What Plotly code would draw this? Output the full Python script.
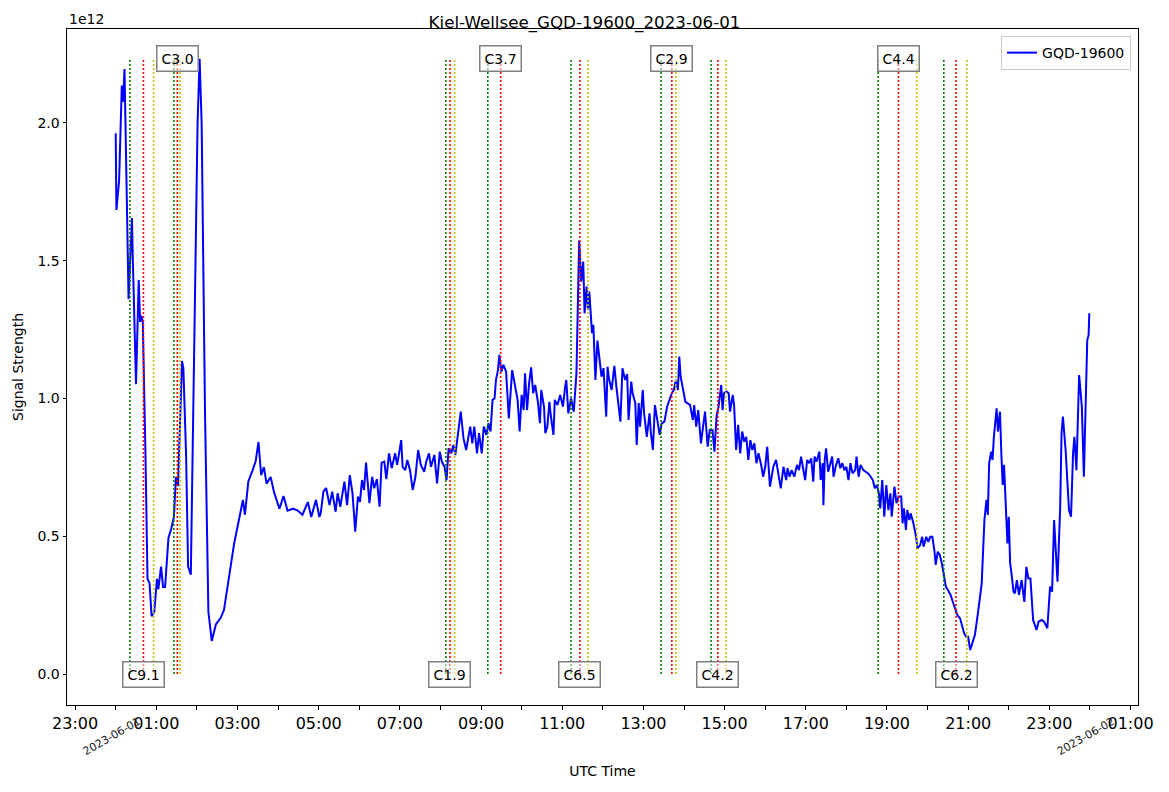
import pandas as pd
import plotly.graph_objects as go

# station / receiver
station = 'Kiel-Wellsee'
transmitter = 'GQD-19600'
day = '2023-06-01'

# minutes after 00:00 UTC and signal strength (in units of 1e12)
minutes = [
    0, 1, 5, 9, 11, 13, 19, 24, 25, 30, 34, 36, 38, 40, 44, 47, 50, 53, 57, 61,
    63, 67, 70, 73, 78, 82, 86, 89, 92, 98, 100, 104, 107, 111, 121, 124, 127, 132, 137, 142,
    148, 155, 160, 168, 175, 183, 188, 191, 196, 202, 207, 211, 215, 219, 223, 229, 234, 242, 248, 254,
    262, 269, 276, 284, 289, 296, 301, 303, 307, 311, 316, 320, 325, 328, 332, 338, 342, 346, 350, 354,
    358, 361, 364, 367, 370, 375, 379, 382, 386, 390, 393, 397, 400, 404, 408, 413, 416, 422, 424, 428,
    431, 435, 439, 443, 447, 451, 456, 459, 463, 466, 471, 475, 479, 482, 486, 489, 492, 496, 499, 502,
    506, 510, 514, 518, 521, 524, 527, 530, 534, 537, 541, 544, 548, 551, 554, 557, 560, 562, 565, 567,
    570, 573, 577, 581, 586, 591, 594, 597, 600, 603, 605, 608, 611, 614, 617, 620, 624, 627, 629, 633,
    635, 638, 641, 643, 647, 649, 653, 657, 661, 664, 666, 669, 673, 677, 681, 685, 688, 691, 693, 696,
    698, 700, 704, 706, 709, 712, 716, 718, 721, 725, 727, 729, 733, 737, 740, 743, 746, 749, 753, 756,
    758, 762, 764, 768, 770, 773, 775, 779, 781, 785, 789, 791, 794, 797, 801, 804, 807, 811, 815, 818,
    822, 825, 828, 831, 833, 835, 839, 842, 845, 849, 853, 855, 858, 861, 865, 868, 871, 875, 878, 882,
    885, 888, 891, 895, 897, 899, 903, 906, 908, 912, 914, 917, 920, 923, 926, 929, 932, 935, 938, 941,
    944, 947, 950, 954, 957, 960, 963, 967, 972, 976, 979, 983, 987, 991, 993, 996, 999, 1003, 1007, 1010,
    1013, 1016, 1019, 1022, 1025, 1028, 1031, 1033, 1036, 1040, 1042, 1045, 1046, 1048, 1050, 1053, 1056, 1059, 1061, 1064,
    1068, 1071, 1074, 1077, 1080, 1083, 1086, 1089, 1093, 1095, 1098, 1101, 1105, 1109, 1112, 1116, 1119, 1122, 1125, 1128,
    1130, 1133, 1136, 1139, 1142, 1145, 1147, 1151, 1154, 1157, 1161, 1163, 1165, 1168, 1170, 1173, 1175, 1179, 1183, 1185,
    1189, 1192, 1194, 1198, 1201, 1204, 1207, 1210, 1212, 1215, 1218, 1221, 1224, 1227, 1230, 1234, 1238, 1241, 1244, 1248,
    1251, 1254, 1257, 1260, 1263, 1267, 1270, 1275, 1280, 1284, 1287, 1289, 1291, 1294, 1296, 1298, 1302, 1304, 1307, 1309,
    1311, 1313, 1317, 1318, 1320, 1322, 1324, 1327, 1329, 1332, 1335, 1339, 1343, 1346, 1349, 1352, 1356, 1361, 1364, 1369,
    1372, 1377, 1381, 1384, 1387, 1392, 1396, 1398, 1400, 1404, 1409, 1412, 1415, 1417, 1420, 1424, 1428, 1431, 1436, 1438,
    1439,
]
signal_e12 = [
    1.963, 1.684, 1.79, 2.136, 2.076, 2.196, 1.361, 1.655, 1.535, 1.052, 1.43, 1.278, 1.30, 1.278, 0.796, 0.345, 0.33, 0.21, 0.225, 0.345,
    0.308, 0.39, 0.316, 0.316, 0.495, 0.526, 0.57, 0.715, 0.682, 1.136, 1.11, 0.796, 0.39, 0.36, 2.0, 2.233, 2.0, 0.947, 0.225, 0.12,
    0.18, 0.203, 0.232, 0.36, 0.473, 0.57, 0.632, 0.578, 0.699, 0.737, 0.774, 0.842, 0.722, 0.751, 0.691, 0.715, 0.66, 0.60, 0.646, 0.593,
    0.60, 0.593, 0.578, 0.624, 0.57, 0.632, 0.57, 0.583, 0.662, 0.675, 0.613, 0.662, 0.589, 0.656, 0.607, 0.698, 0.613, 0.722, 0.656, 0.517,
    0.644, 0.625, 0.704, 0.668, 0.767, 0.62, 0.716, 0.674, 0.707, 0.607, 0.767, 0.771, 0.707, 0.801, 0.747, 0.801, 0.759, 0.849, 0.752, 0.74,
    0.777, 0.74, 0.668, 0.716, 0.813, 0.759, 0.734, 0.771, 0.801, 0.752, 0.795, 0.692, 0.807, 0.771, 0.752, 0.704, 0.819, 0.801, 0.831, 0.795,
    0.88, 0.952, 0.856, 0.813, 0.856, 0.898, 0.837, 0.898, 0.801, 0.874, 0.801, 0.898, 0.868, 0.91, 0.88, 0.995, 1.0, 1.067, 1.103, 1.158,
    1.097, 1.122, 1.097, 0.928, 1.103, 1.025, 0.995, 0.88, 1.013, 0.958, 1.091, 0.958, 1.055, 1.113, 1.019, 1.049, 0.988, 0.91, 1.031, 0.97,
    0.874, 0.898, 0.988, 0.94, 0.868, 0.995, 0.976, 1.013, 0.97, 1.037, 1.067, 0.946, 1.0, 0.952, 1.091, 1.573, 1.424, 1.497, 1.309, 1.406,
    1.321, 1.388, 1.237, 1.267, 1.067, 1.21, 1.115, 1.079, 1.11, 0.934, 1.115, 1.073, 1.031, 1.118, 1.043, 0.988, 0.916, 1.11, 1.067, 1.089,
    0.922, 1.061, 1.019, 0.983, 0.831, 0.983, 0.898, 1.031, 0.946, 0.861, 0.946, 0.874, 0.813, 0.976, 0.922, 0.868, 0.91, 0.916, 0.97, 0.995,
    1.019, 1.031, 1.067, 1.031, 1.152, 1.079, 1.031, 0.988, 0.983, 0.976, 0.922, 0.976, 0.898, 0.958, 0.837, 0.898, 0.952, 0.825, 0.886, 0.886,
    0.807, 0.934, 0.97, 1.049, 0.958, 1.019, 1.025, 1.019, 0.952, 1.013, 0.976, 0.813, 0.904, 0.801, 0.88, 0.843, 0.861, 0.777, 0.849, 0.813,
    0.837, 0.765, 0.801, 0.759, 0.716, 0.752, 0.825, 0.68, 0.752, 0.777, 0.728, 0.674, 0.752, 0.704, 0.747, 0.716, 0.74, 0.716, 0.759, 0.74,
    0.789, 0.747, 0.704, 0.777, 0.765, 0.783, 0.698, 0.789, 0.771, 0.807, 0.704, 0.765, 0.613, 0.777, 0.819, 0.734, 0.759, 0.789, 0.716, 0.752,
    0.783, 0.747, 0.765, 0.74, 0.752, 0.704, 0.765, 0.728, 0.74, 0.789, 0.716, 0.759, 0.74, 0.734, 0.728, 0.716, 0.704, 0.674, 0.686, 0.656,
    0.601, 0.704, 0.571, 0.686, 0.595, 0.656, 0.571, 0.68, 0.62, 0.644, 0.644, 0.547, 0.601, 0.523, 0.595, 0.559, 0.583, 0.547, 0.498, 0.456,
    0.468, 0.498, 0.462, 0.498, 0.48, 0.498, 0.498, 0.45, 0.396, 0.444, 0.432, 0.402, 0.365, 0.317, 0.305, 0.287, 0.257, 0.232, 0.214, 0.202,
    0.172, 0.148, 0.135, 0.135, 0.087, 0.123, 0.142, 0.232, 0.329, 0.559, 0.632, 0.577, 0.765, 0.807, 0.777, 0.861, 0.964, 0.88, 0.952, 0.801,
    0.686, 0.759, 0.571, 0.474, 0.571, 0.402, 0.365, 0.299, 0.293, 0.341, 0.287, 0.341, 0.262, 0.389, 0.347, 0.347, 0.196, 0.16, 0.19, 0.196,
    0.19, 0.166, 0.317, 0.299, 0.559, 0.335, 0.607, 0.874, 0.934, 0.813, 0.595, 0.571, 0.801, 0.861, 0.74, 1.085, 0.97, 0.716, 1.212, 1.23,
    1.309,
]

# solar flares: start / peak / end (UTC) and class
flare_start = ['00:21', '01:26', '08:08', '09:10', '11:13', '13:26', '14:40', '18:47', '20:24']
flare_peak = ['00:41', '01:31', '08:14', '09:29', '11:26', '13:42', '14:50', '19:17', '20:42']
flare_end = ['00:56', '01:35', '08:21', None, '11:38', '13:48', '15:02', '19:44', '20:58']
flare_class = ['C9.1', 'C3.0', 'C1.9', 'C3.7', 'C6.5', 'C2.9', 'C4.2', 'C4.4', 'C6.2']

y_ticks = [0.0, 0.5, 1.0, 1.5, 2.0]

FONT = 'DejaVu Sans'

times = pd.Timestamp(day) + pd.to_timedelta(minutes, unit='m')
top = max(signal_e12)


def at(hhmm):
    return pd.Timestamp(f'{day} {hhmm}')


fig = go.Figure()
fig.add_trace(go.Scatter(x=times, y=signal_e12, mode='lines', name=transmitter,
                         line={'color': 'blue', 'width': 2}))

# dotted lines: green = start, red = peak, yellow = end
for i in range(len(flare_class)):
    for t, colour in [(flare_start[i], 'green'), (flare_peak[i], 'red'), (flare_end[i], '#bfbf00')]:
        if t is None:
            continue
        fig.add_shape(type='line', xref='x', yref='y', x0=at(t), x1=at(t), y0=0, y1=top,
                      line={'color': colour, 'width': 1.6, 'dash': '2px,2px'})
    # labels alternate bottom / top
    fig.add_annotation(x=at(flare_peak[i]), y=0 if i % 2 == 0 else top, text=flare_class[i],
                       showarrow=False, font={'size': 14, 'color': 'black'},
                       bgcolor='rgba(255,255,255,0.5)', bordercolor='#808080',
                       borderwidth=1.5, borderpad=4)

# date labels below the hour ticks
for d in ['2023-06-01', '2023-06-02']:
    fig.add_annotation(x=pd.Timestamp(d), y=-0.047, xref='x', yref='paper', text=d,
                       showarrow=False, textangle=-30, xshift=-4,
                       xanchor='center', yanchor='middle',
                       font={'size': 11, 'color': '#222222'})

# offset text of the y axis
fig.add_annotation(x=0, y=1, xref='paper', yref='paper', text='1e12', showarrow=False,
                   xanchor='left', yanchor='bottom', yshift=0, font={'size': 14})

fig.update_layout(
    title={'text': f'{station}_{transmitter}_{day}', 'x': 0.5, 'xref': 'container',
           'y': 0.972, 'yanchor': 'middle', 'font': {'size': 16.7}},
    width=1169, height=792,
    margin={'l': 67, 'r': 31, 't': 29, 'b': 87},
    plot_bgcolor='white', paper_bgcolor='white',
    font={'family': FONT, 'size': 14, 'color': 'black'},
    showlegend=True,
    legend={'x': 0.9935, 'xanchor': 'right', 'y': 0.9896, 'yanchor': 'top',
            'bordercolor': '#cccccc', 'borderwidth': 1, 'bgcolor': 'rgba(255,255,255,0.8)',
            'font': {'size': 14}},
    xaxis={'type': 'date', 'range': ['2023-05-31 22:48', '2023-06-02 01:11'],
           'tick0': '2023-05-31 23:00', 'dtick': 7200000, 'tickformat': '%H:%M',
           'ticks': 'outside', 'ticklen': 3.5, 'tickcolor': 'black', 'tickfont': {'size': 16},
           'minor': {'dtick': 3600000, 'ticks': 'outside', 'ticklen': 3.5, 'tickcolor': 'black'},
           'showgrid': False, 'zeroline': False, 'showline': True, 'linecolor': 'black',
           'linewidth': 1, 'mirror': True,
           'title': {'text': 'UTC Time', 'standoff': 34, 'font': {'size': 14}}, 'automargin': False},
    yaxis={'range': [-0.1125, 2.341], 'tickvals': y_ticks, 'tickformat': '.1f',
           'ticks': 'outside', 'ticklen': 3.5, 'tickcolor': 'black', 'tickfont': {'size': 14},
           'showgrid': False, 'zeroline': False, 'showline': True, 'linecolor': 'black',
           'linewidth': 1, 'mirror': True,
           'title': {'text': 'Signal Strength', 'standoff': 10, 'font': {'size': 14}}, 'automargin': False},
)

# the page body has a default margin; drop it so the figure sits at 0,0
fig.write_html('out.html', config={'displayModeBar': False},
               post_script="document.body.style.margin = '0';")
